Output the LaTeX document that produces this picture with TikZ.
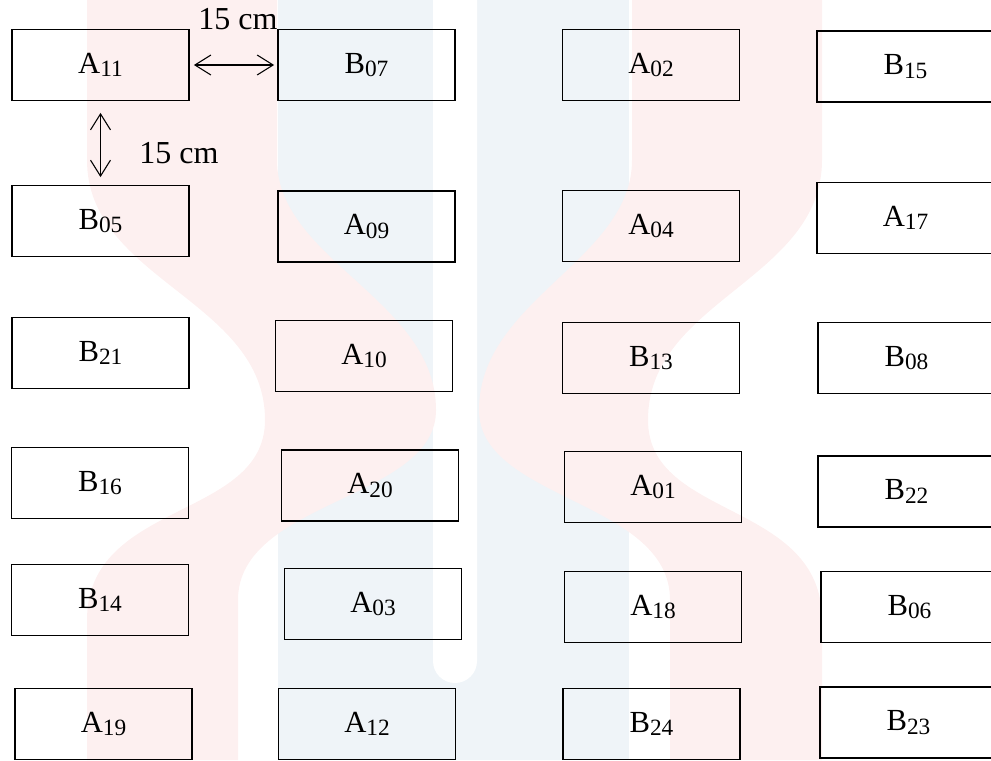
\documentclass[tikz,border=0pt]{standalone}
\usepackage{fontspec}
\setmainfont{Liberation Serif}
\usepackage{tikz}
\usetikzlibrary{arrows.meta, calc}
\definecolor{hongnhat}{HTML}{FDF0F0}
\definecolor{xanhnhat}{HTML}{EFF4F8}
\newcommand{\ghe}[2]{#1\raisebox{-2.5pt}{\fontsize{17.5}{20}\selectfont #2}}

\begin{document}
\begin{tikzpicture}[x=0.75pt,y=-0.75pt,
    oghe/.style={draw, line width=1.4pt, minimum width=132.75pt, minimum height=53.25pt, inner sep=0pt, font=\fontsize{23}{27}\selectfont},
    khoangcach/.style={<->, >={Straight Barb[length=12pt,width=15pt]}, line width=0.8pt},
    nhan/.style={font=\fontsize{24}{28}\selectfont}]

            % Khung hình
            \useasboundingbox (0,0) rectangle (991,760);
            \clip (0,0) rectangle (991,760);

            % Nền mờ
            \fill[xanhnhat] (278,0) rectangle (629,760);
            \fill[white] (433,0) -- (433,661) arc (180:0:22) -- (477,0) -- cycle;
            \fill[hongnhat] (87,0) -- (87,160) .. controls (87,280) and (265,300) .. (265,420)
                .. controls (265,520) and (87,500) .. (87,620) -- (87,760) -- (238,760) -- (238,600)
                .. controls (238,500) and (436,500) .. (436,410) .. controls (436,300) and (277,260) .. (277,160)
                -- (277,0) -- cycle;
            \fill[hongnhat] (822,0) -- (822,160) .. controls (822,280) and (648,300) .. (648,420)
                .. controls (648,520) and (822,500) .. (822,620) -- (822,760) -- (670,760) -- (670,600)
                .. controls (670,500) and (479,500) .. (479,410) .. controls (479,300) and (632,260) .. (632,160)
                -- (632,0) -- cycle;

            % Hàng 1
            \node[oghe] (A11) at (100.5,65) {\ghe{A}{11}};
            \node[oghe] (B07) at (366.5,65) {\ghe{B}{07}};
            \node[oghe] (A02) at (651,65) {\ghe{A}{02}};
            \node[oghe] (B15) at (905.5,66.5) {\ghe{B}{15}};

            % Hàng 2
            \node[oghe] (B05) at (100.5,221) {\ghe{B}{05}};
            \node[oghe] (A09) at (366.5,226.5) {\ghe{A}{09}};
            \node[oghe] (A04) at (651,226) {\ghe{A}{04}};
            \node[oghe] (A17) at (905.5,218) {\ghe{A}{17}};

            % Hàng 3
            \node[oghe] (B21) at (100.5,353) {\ghe{B}{21}};
            \node[oghe] (A10) at (364,356) {\ghe{A}{10}};
            \node[oghe] (B13) at (651,358) {\ghe{B}{13}};
            \node[oghe] (B08) at (906.5,358) {\ghe{B}{08}};

            % Hàng 4
            \node[oghe] (B16) at (100,483) {\ghe{B}{16}};
            \node[oghe] (A20) at (370,485.5) {\ghe{A}{20}};
            \node[oghe] (A01) at (653,487) {\ghe{A}{01}};
            \node[oghe] (B22) at (906.5,491.5) {\ghe{B}{22}};

            % Hàng 5
            \node[oghe] (B14) at (100,600) {\ghe{B}{14}};
            \node[oghe] (A03) at (373,604) {\ghe{A}{03}};
            \node[oghe] (A18) at (653,607) {\ghe{A}{18}};
            \node[oghe] (B06) at (909.5,607) {\ghe{B}{06}};

            % Hàng 6
            \node[oghe] (A19) at (103.5,724) {\ghe{A}{19}};
            \node[oghe] (A12) at (367,724) {\ghe{A}{12}};
            \node[oghe] (B24) at (651.5,724) {\ghe{B}{24}};
            \node[oghe] (B23) at (908.5,722.5) {\ghe{B}{23}};

            % Khoảng cách giữa các ghế
            \draw[khoangcach, shorten <=3pt, shorten >=2.2pt] (A11.east) -- (B07.west);
            \draw[khoangcach, shorten <=8.6pt, shorten >=5.6pt] (A11.south) -- (B05.north);
            \node[nhan] (ngang) at (238,19) {15 cm}; % ngang
            \node[nhan] (doc) at (179,153) {15 cm}; % dọc

\end{tikzpicture}
\end{document}
